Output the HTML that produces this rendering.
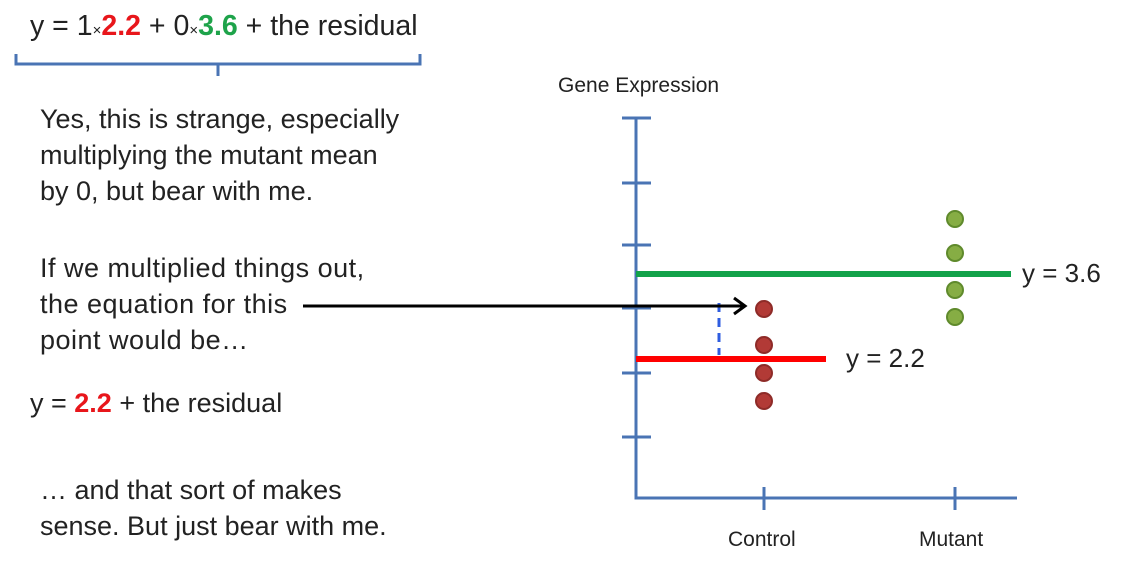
<!DOCTYPE html>
<html><head><style>
body{margin:0;width:1124px;height:565px;background:#fff;position:relative;overflow:hidden;font-family:"Liberation Sans",sans-serif;color:#222}
.t{position:absolute;font-size:27px;line-height:36px;white-space:nowrap}
.r{color:#e8161b;font-weight:bold}.g{color:#1ea34a;font-weight:bold}
.s{font-size:15px}
</style></head><body>
<div class="t" style="left:30px;top:8px;font-size:28.5px">y = 1<span class="s">×</span><span class="r">2.2</span> + 0<span class="s">×</span><span class="g">3.6</span> + the residual</div>
<div class="t" style="left:40px;top:101px">Yes, this is strange, especially<br>multiplying the mutant mean<br>by 0, but bear with me.</div>
<div class="t" style="left:40px;top:250px;letter-spacing:0.5px">If we multiplied things out,<br>the equation for this<br>point would be…</div>
<div class="t" style="left:30px;top:385px">y = <span class="r">2.2</span> + the residual</div>
<div class="t" style="left:40px;top:472px">… and that sort of makes<br>sense. But just bear with me.</div>
<div class="t" style="left:558px;top:68px;font-size:21px">Gene Expression</div>
<div class="t" style="left:728px;top:522px;font-size:21px">Control</div>
<div class="t" style="left:919px;top:522px;font-size:21px">Mutant</div>
<div class="t" style="left:1022px;top:255px;font-size:26px">y = 3.6</div>
<div class="t" style="left:846px;top:340px;font-size:26px">y = 2.2</div>
<svg width="1124" height="565" style="position:absolute;left:0;top:0">
<path d="M16 54 V64 H420 V54 M218 64 V76" fill="none" stroke="#4a74b4" stroke-width="3"/>
<g stroke="#4a74b4" stroke-width="3" fill="none">
<path d="M636 118 V498 H1017"/>
<path d="M622 118H651M622 183H651M622 245H651M622 308H651M622 373H651M622 437H651"/>
<path d="M764 487V510M955 487V510"/>
</g>
<line x1="636" y1="274" x2="1011" y2="274" stroke="#12a24a" stroke-width="6"/>
<line x1="636" y1="359" x2="826" y2="359" stroke="#f00" stroke-width="6"/>
<line x1="719" y1="303" x2="719" y2="355" stroke="#2f5de0" stroke-width="3" stroke-dasharray="9,6"/>
<path d="M303 306 H744 M734 298 L745 306 L734 314" fill="none" stroke="#000" stroke-width="3"/>
<g fill="#b23a36" stroke="#8e2b28" stroke-width="2">
<circle cx="764" cy="309" r="8"/><circle cx="764" cy="345" r="8"/><circle cx="764" cy="373" r="8"/><circle cx="764" cy="401" r="8"/>
</g>
<g fill="#86ad44" stroke="#5f8a2c" stroke-width="2">
<circle cx="955" cy="219" r="8"/><circle cx="955" cy="253" r="8"/><circle cx="955" cy="290" r="8"/><circle cx="955" cy="317" r="8"/>
</g>
</svg>
</body></html>
